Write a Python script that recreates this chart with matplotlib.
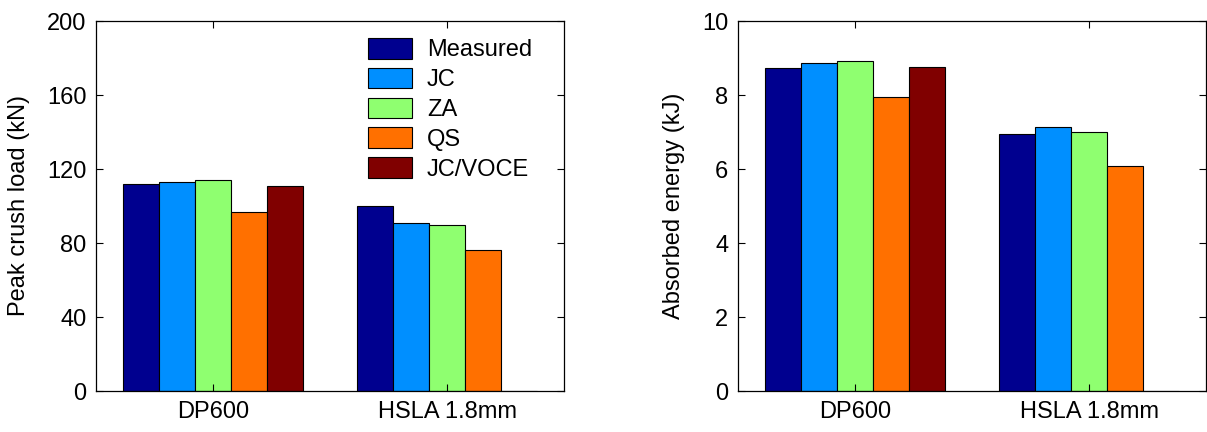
import numpy as np
import matplotlib.pyplot as plt

plt.rcParams['font.family'] = ['Liberation Sans', 'DejaVu Sans']

groups = ['DP600', 'HSLA 1.8mm']
series = ['Measured', 'JC', 'ZA', 'QS', 'JC/VOCE']
colors = ['#00008F', '#008FFF', '#8FFF70', '#FF7000', '#800000']

# peak crush load (kN)
load_measured = [111.9, 99.8]
load_jc = [112.8, 90.6]
load_za = [113.9, 89.5]
load_qs = [96.8, 76.4]
load_jcvoce = [110.8, 0]

# absorbed energy (kJ)
energy_measured = [8.72, 6.95]
energy_jc = [8.86, 7.14]
energy_za = [8.91, 7.00]
energy_qs = [7.95, 6.09]
energy_jcvoce = [8.77, 0]

W, H = 1207, 432
fig = plt.figure(figsize=(W / 100, H / 100), dpi=100)

ax1 = fig.add_axes([96 / W, 41 / H, 468 / W, 370 / H])
ax2 = fig.add_axes([738 / W, 41 / H, 468 / W, 370 / H])

x = np.arange(1, len(groups) + 1)
n = len(series)
bw = (n / (n + 1.5)) / n


def draw(ax, data, ylim, yticks, ylabel):
    for i, (vals, c, lab) in enumerate(zip(data, colors, series)):
        offs = (i - (n - 1) / 2) * bw
        ax.bar(x + offs, vals, bw, color=c, edgecolor='black', linewidth=0.8, label=lab)
    ax.set_xlim(0.5, 2.5)
    ax.set_ylim(*ylim)
    ax.set_yticks(yticks)
    ax.set_xticks(x)
    ax.set_xticklabels(groups)
    ax.set_ylabel(ylabel, fontsize=17, labelpad=12)
    ax.tick_params(direction='in', top=True, right=True, labelsize=17, length=5, pad=7)
    for s in ax.spines.values():
        s.set_linewidth(0.9)


draw(ax1, [load_measured, load_jc, load_za, load_qs, load_jcvoce],
     (0, 200), [0, 40, 80, 120, 160, 200], 'Peak crush load (kN)')
draw(ax2, [energy_measured, energy_jc, energy_za, energy_qs, energy_jcvoce],
     (0, 10), [0, 2, 4, 6, 8, 10], 'Absorbed energy (kJ)')

ax1.legend(loc='upper left', frameon=False, fontsize=17, handlelength=1.86,
           handleheight=0.97, labelspacing=0.27, handletextpad=0.64,
           borderpad=0, borderaxespad=0,
           bbox_to_anchor=(368 / W, 1 - 38 / H), bbox_transform=fig.transFigure)

fig.savefig('out.png', dpi=100)
